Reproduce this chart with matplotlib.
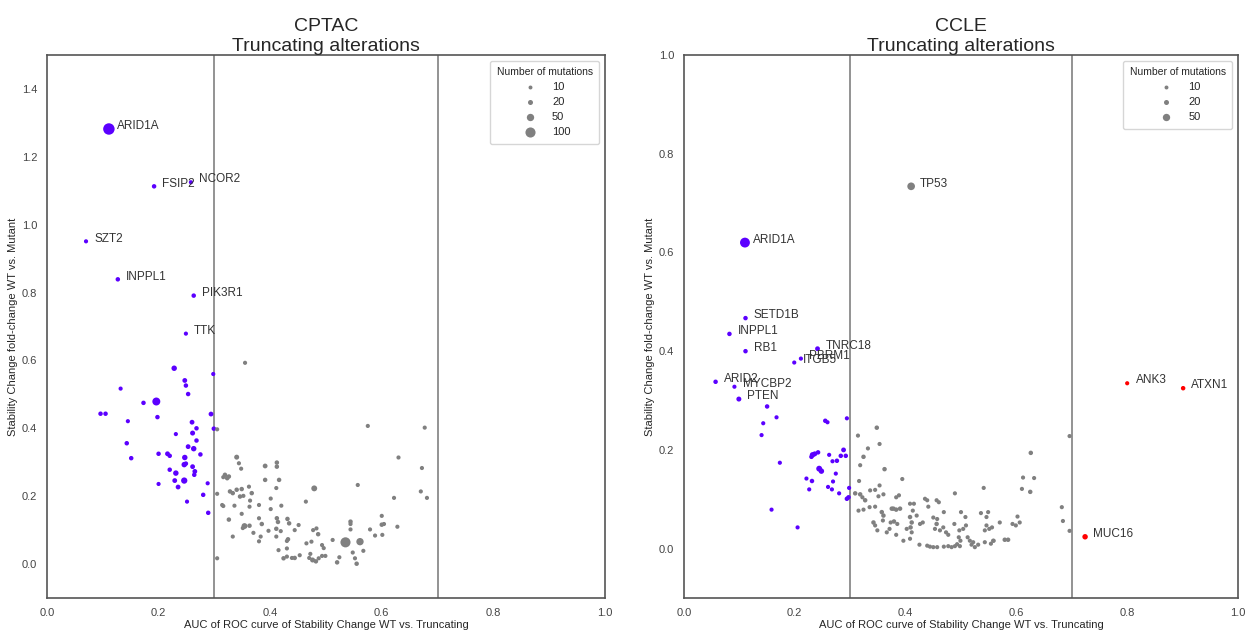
import matplotlib
matplotlib.use('Agg')
import matplotlib.pyplot as plt
import seaborn as sns
import numpy as np

sns.set_style('white')
plt.rcParams['font.family'] = ['Liberation Sans', 'DejaVu Sans']

# ---- CPTAC: named genes (AUC, fold-change, number of mutations)
cptac_genes = ['ARID1A', 'FSIP2', 'NCOR2', 'SZT2', 'INPPL1', 'PIK3R1', 'TTK']
cptac_gene_auc = [0.111, 0.192, 0.258, 0.070, 0.127, 0.263, 0.249]
cptac_gene_fc = [1.282, 1.113, 1.125, 0.951, 0.839, 0.791, 0.679]
cptac_gene_n = [130, 15, 12, 12, 15, 15, 12]

# ---- CPTAC: remaining genes
cptac_auc = [
    0.228, 0.247, 0.249, 0.253, 0.132, 0.173, 0.196, 0.096, 0.105, 0.198, 0.145, 0.298,
    0.294, 0.299, 0.260, 0.268, 0.231, 0.261, 0.268, 0.143, 0.253, 0.263, 0.275, 0.200,
    0.216, 0.220, 0.151, 0.247, 0.246, 0.249, 0.220, 0.231, 0.261, 0.265, 0.264, 0.246,
    0.229, 0.200, 0.235, 0.288, 0.280, 0.251, 0.289,
    0.355, 0.575, 0.677, 0.630, 0.672, 0.670, 0.681, 0.622, 0.557, 0.479, 0.464, 0.340,
    0.344, 0.348, 0.391, 0.412, 0.412, 0.391, 0.416, 0.411, 0.319, 0.323, 0.326, 0.316,
    0.305, 0.314, 0.316, 0.328, 0.333, 0.340, 0.349, 0.362, 0.346, 0.352, 0.367, 0.364,
    0.363, 0.336, 0.380, 0.401, 0.401, 0.420, 0.349, 0.326, 0.354, 0.363, 0.351, 0.333,
    0.370, 0.380, 0.385, 0.383, 0.380, 0.397, 0.412, 0.414, 0.411, 0.419, 0.411, 0.431,
    0.434, 0.444, 0.451, 0.432, 0.430, 0.415, 0.430, 0.424, 0.430, 0.439, 0.444, 0.453,
    0.465, 0.474, 0.477, 0.483, 0.486, 0.472, 0.470, 0.476, 0.482, 0.487, 0.493, 0.499,
    0.496, 0.493, 0.512, 0.535, 0.561, 0.544, 0.544, 0.544, 0.548, 0.552, 0.555, 0.524,
    0.520, 0.567, 0.579, 0.588, 0.600, 0.600, 0.604, 0.601, 0.628, 0.305, 0.305]
cptac_fc = [
    0.577, 0.541, 0.526, 0.501, 0.517, 0.475, 0.479, 0.443, 0.443, 0.433, 0.421, 0.560,
    0.442, 0.399, 0.418, 0.400, 0.383, 0.386, 0.364, 0.356, 0.346, 0.340, 0.323, 0.325,
    0.325, 0.319, 0.312, 0.314, 0.293, 0.296, 0.278, 0.268, 0.287, 0.273, 0.263, 0.246,
    0.246, 0.236, 0.227, 0.238, 0.204, 0.184, 0.151,
    0.593, 0.407, 0.402, 0.314, 0.283, 0.214, 0.195, 0.195, 0.233, 0.223, 0.184, 0.315,
    0.297, 0.281, 0.289, 0.299, 0.287, 0.248, 0.248, 0.224, 0.263, 0.253, 0.258, 0.256,
    0.207, 0.174, 0.171, 0.214, 0.209, 0.219, 0.221, 0.228, 0.199, 0.201, 0.209, 0.187,
    0.169, 0.172, 0.174, 0.193, 0.162, 0.172, 0.148, 0.131, 0.112, 0.113, 0.106, 0.081,
    0.092, 0.135, 0.118, 0.081, 0.067, 0.098, 0.135, 0.124, 0.104, 0.097, 0.081, 0.133,
    0.120, 0.100, 0.115, 0.073, 0.068, 0.041, 0.046, 0.017, 0.022, 0.018, 0.018, 0.026,
    0.061, 0.066, 0.100, 0.105, 0.088, 0.030, 0.018, 0.012, 0.008, 0.017, 0.024, 0.024,
    0.047, 0.056, 0.071, 0.064, 0.066, 0.125, 0.118, 0.102, 0.034, 0.017, 0.001, 0.020,
    0.005, 0.039, 0.102, 0.084, 0.142, 0.116, 0.118, 0.086, 0.110, 0.017, 0.397]
cptac_n = [
    25, 18, 15, 15, 12, 15, 60, 15, 15, 15, 12, 12,
    18, 15, 18, 15, 12, 20, 15, 15, 18, 25, 15, 15,
    18, 15, 15, 25, 25, 15, 15, 25, 18, 18, 15, 35,
    18, 12, 18, 12, 15, 12, 15,
    12, 12, 12, 12, 12, 12, 12, 12, 12, 30, 12, 20,
    12, 12, 18, 15, 15, 15, 15, 12, 15, 15, 15, 12,
    12, 12, 12, 15, 15, 15, 15, 12, 15, 12, 15, 12,
    12, 12, 12, 12, 12, 12, 12, 15, 30, 15, 12, 12,
    12, 12, 15, 12, 12, 12, 15, 15, 15, 12, 12, 15,
    15, 12, 12, 15, 12, 12, 12, 15, 12, 12, 15, 12,
    12, 12, 12, 12, 15, 12, 12, 20, 15, 12, 12, 12,
    12, 12, 12, 100, 50, 15, 12, 12, 12, 12, 15, 12,
    15, 12, 12, 12, 12, 15, 12, 12, 12, 12, 12]

# ---- CCLE: named genes
ccle_genes = ['ARID1A', 'TP53', 'SETD1B', 'INPPL1', 'RB1', 'TNRC18', 'PBRM1', 'ITGB5',
              'ARID2', 'MYCBP2', 'PTEN', 'ANK3', 'ATXN1', 'MUC16']
ccle_gene_auc = [0.110, 0.410, 0.111, 0.082, 0.111, 0.241, 0.211, 0.199,
                 0.057, 0.091, 0.099, 0.800, 0.901, 0.724]
ccle_gene_fc = [0.620, 0.734, 0.467, 0.435, 0.400, 0.405, 0.385, 0.377,
                0.338, 0.328, 0.303, 0.335, 0.325, 0.024]
ccle_gene_n = [95, 55, 15, 15, 15, 18, 12, 12, 15, 12, 20, 12, 15, 25]

# ---- CCLE: remaining genes
ccle_auc = [
    0.150, 0.167, 0.143, 0.140, 0.255, 0.259, 0.294, 0.173, 0.232, 0.236, 0.242, 0.230,
    0.262, 0.268, 0.276, 0.283, 0.292, 0.288, 0.244, 0.248, 0.274, 0.221, 0.231, 0.269,
    0.226, 0.260, 0.267, 0.280, 0.298, 0.294, 0.297, 0.158, 0.205,
    0.314, 0.348, 0.353, 0.332, 0.324, 0.318, 0.362, 0.316, 0.394, 0.696, 0.626, 0.612,
    0.632, 0.610, 0.625, 0.541, 0.489, 0.682, 0.684, 0.696,
    0.309, 0.318, 0.322, 0.327, 0.336, 0.345, 0.353, 0.360, 0.351, 0.315, 0.324, 0.335,
    0.345, 0.357, 0.360, 0.359, 0.342, 0.345, 0.349, 0.375, 0.378, 0.383, 0.390, 0.373,
    0.379, 0.385, 0.366, 0.371, 0.383, 0.396, 0.388, 0.383, 0.408, 0.415, 0.413, 0.408,
    0.411, 0.409, 0.402, 0.411, 0.408, 0.420, 0.426, 0.431, 0.425, 0.435, 0.439, 0.441,
    0.456, 0.460, 0.439, 0.444, 0.450, 0.457, 0.450, 0.457, 0.456, 0.453, 0.462, 0.469,
    0.468, 0.473, 0.477, 0.469, 0.477, 0.483, 0.488, 0.497, 0.496, 0.499, 0.489, 0.493,
    0.498, 0.500, 0.508, 0.509, 0.504, 0.512, 0.516, 0.522, 0.525, 0.519, 0.536, 0.549,
    0.546, 0.546, 0.551, 0.543, 0.556, 0.559, 0.554, 0.543, 0.570, 0.579, 0.585, 0.593,
    0.599, 0.602, 0.606, 0.531, 0.558]
ccle_fc = [
    0.288, 0.266, 0.254, 0.230, 0.259, 0.256, 0.264, 0.174, 0.190, 0.192, 0.195, 0.186,
    0.190, 0.177, 0.178, 0.188, 0.188, 0.200, 0.162, 0.157, 0.152, 0.142, 0.137, 0.136,
    0.120, 0.125, 0.120, 0.112, 0.123, 0.101, 0.104, 0.079, 0.043,
    0.229, 0.245, 0.212, 0.203, 0.186, 0.169, 0.161, 0.137, 0.141, 0.228, 0.194, 0.144,
    0.143, 0.121, 0.115, 0.123, 0.112, 0.084, 0.056, 0.036,
    0.112, 0.110, 0.104, 0.098, 0.118, 0.119, 0.128, 0.110, 0.106, 0.077, 0.079, 0.084,
    0.085, 0.074, 0.067, 0.057, 0.053, 0.047, 0.037, 0.081, 0.081, 0.079, 0.081, 0.053,
    0.055, 0.050, 0.033, 0.040, 0.028, 0.016, 0.108, 0.104, 0.091, 0.091, 0.077, 0.064,
    0.053, 0.043, 0.040, 0.033, 0.020, 0.067, 0.050, 0.053, 0.008, 0.101, 0.098, 0.085,
    0.098, 0.094, 0.006, 0.004, 0.003, 0.003, 0.063, 0.060, 0.050, 0.040, 0.037, 0.074,
    0.043, 0.033, 0.028, 0.004, 0.005, 0.003, 0.050, 0.037, 0.023, 0.016, 0.005, 0.009,
    0.005, 0.074, 0.064, 0.047, 0.040, 0.023, 0.016, 0.013, 0.003, 0.008, 0.072, 0.074,
    0.064, 0.047, 0.040, 0.037, 0.043, 0.016, 0.010, 0.013, 0.053, 0.018, 0.018, 0.050,
    0.047, 0.065, 0.053, 0.008, 0.016]
ccle_n = [
    15, 12, 12, 12, 15, 12, 12, 12, 25, 20, 15, 15,
    12, 12, 15, 15, 15, 18, 30, 25, 12, 12, 15, 12,
    12, 12, 12, 12, 12, 15, 15, 12, 12,
    12, 15, 12, 12, 15, 12, 15, 12, 12, 12, 15, 12,
    12, 12, 15, 12, 12, 12, 12, 12,
    15, 15, 12, 15, 12, 12, 12, 12, 12, 12, 12, 12,
    12, 15, 15, 12, 15, 12, 12, 15, 15, 15, 15, 12,
    15, 12, 12, 12, 12, 12, 12, 12, 12, 12, 12, 15,
    15, 15, 12, 12, 12, 12, 12, 12, 12, 12, 12, 12,
    12, 12, 12, 12, 12, 12, 12, 12, 15, 12, 12, 12,
    12, 12, 12, 12, 12, 12, 12, 12, 12, 12, 12, 12,
    12, 12, 12, 12, 12, 12, 12, 12, 12, 12, 12, 12,
    12, 12, 12, 12, 12, 12, 12, 12, 12, 15, 15, 12,
    12, 12, 12, 12, 12]

PURPLE = '#5b00ff'
GREY = 'grey'
RED = '#ff0000'


def marker_size(n):
    return 3 + 0.5 * np.asarray(n, dtype=float)


def auc_colors(auc):
    auc = np.asarray(auc)
    return np.where(auc < 0.3, PURPLE, np.where(auc > 0.7, RED, GREY))


def panel(ax, title, auc, fc, n, genes, gene_auc, gene_fc, gene_n, ylim, legend_n):
    all_auc = np.concatenate([auc, gene_auc])
    all_fc = np.concatenate([fc, gene_fc])
    all_n = np.concatenate([n, gene_n])
    ax.scatter(all_auc, all_fc, s=marker_size(all_n), c=auc_colors(all_auc),
               linewidths=0, zorder=3)
    for g, x, y in zip(genes, gene_auc, gene_fc):
        ax.annotate(g, (x, y), xytext=(6, 2), textcoords='offset points',
                    va='center', ha='left', fontsize=8.5, color='#333333', zorder=4)
    ax.axvline(0.3, color='grey', lw=1.2, zorder=1)
    ax.axvline(0.7, color='grey', lw=1.2, zorder=1)
    ax.set_xlim(0, 1)
    ax.set_ylim(*ylim)
    ax.set_title(title, fontsize=14, pad=3, color='#262626')
    ax.set_xlabel('AUC of ROC curve of Stability Change WT vs. Truncating', fontsize=8, labelpad=2)
    ax.set_ylabel('Stability Change fold-change WT vs. Mutant', fontsize=8, labelpad=3)
    ax.tick_params(labelsize=8, colors='#444444')
    for sp in ax.spines.values():
        sp.set_color('#555555')
        sp.set_linewidth(1.2)
    handles = [ax.scatter([], [], s=marker_size(v), color=GREY, linewidths=0) for v in legend_n]
    leg = ax.legend(handles, [str(v) for v in legend_n], title='Number of mutations',
                    loc='upper right', fontsize=8, title_fontsize=7.5, frameon=True,
                    borderpad=0.6, labelspacing=0.45, handletextpad=1.0)
    leg.get_frame().set_edgecolor('#cccccc')


fig = plt.figure(figsize=(12.59, 6.33), dpi=100)
ax1 = fig.add_axes([0.0373, 0.0553, 0.4432, 0.8578])
ax2 = fig.add_axes([0.5433, 0.0553, 0.4400, 0.8578])

panel(ax1, 'CPTAC\nTruncating alterations', cptac_auc, cptac_fc, cptac_n,
      cptac_genes, cptac_gene_auc, cptac_gene_fc, cptac_gene_n, (-0.1, 1.5), [10, 20, 50, 100])
panel(ax2, 'CCLE\nTruncating alterations', ccle_auc, ccle_fc, ccle_n,
      ccle_genes, ccle_gene_auc, ccle_gene_fc, ccle_gene_n, (-0.1, 1.0), [10, 20, 50])

fig.savefig('out.png', dpi=100)
